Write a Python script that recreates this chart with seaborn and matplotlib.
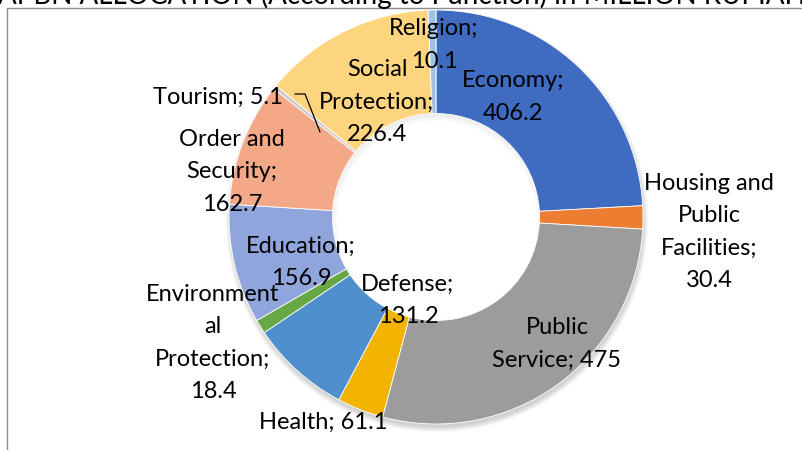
import matplotlib.pyplot as plt
import seaborn as sns
from matplotlib.patches import Rectangle

# Datos (millones de rupias)
categorias = ["Economy", "Housing and Public Facilities", "Public Service", "Health",
              "Defense", "Environmental Protection", "Education", "Order and Security",
              "Tourism", "Social Protection", "Religion"]
valores = [406.2, 30.4, 475, 61.1, 131.2, 18.4, 156.9, 162.7, 5.1, 226.4, 10.1]
etiquetas = ["Economy;\n406.2", "Housing and\nPublic\nFacilities;\n30.4", "Public\nService; 475",
             "Health; 61.1", "Defense;\n131.2", "Environment\nal\nProtection;\n18.4",
             "Education;\n156.9", "Order and\nSecurity;\n162.7", "Tourism; 5.1",
             "Social\nProtection;\n226.4", "Religion;\n10.1"]
titulo = "APBN ALLOCATION (According to Function) in MILLION RUPIAH"

colores = ["#3F6CC0", "#ED7D31", "#9C9C9C", "#F2B400", "#4F8FCD", "#68A844",
           "#8FA5DB", "#F3A988", "#C9C9C9", "#FED57F", "#9DC3E6"]

sns.set_theme(style="white")
plt.rcParams['font.family'] = ['Lato', 'DejaVu Sans']

W, H = 803, 450
fig = plt.figure(figsize=(W / 100, H / 100), dpi=100)
ax = fig.add_axes([0, 0, 1, 1])

cx, cy, R = 436, H - 217, 207

# sombra suave bajo el anillo
for k in range(6):
    ax.pie([1], colors=["#000000"], center=(cx + 1, cy - 4), radius=R + 4 - k,
           wedgeprops=dict(width=R * 0.5 - 2 * (4 - k), alpha=0.03, linewidth=0))

ax.pie(valores, colors=sns.color_palette(colores), startangle=90, counterclock=False,
       center=(cx, cy), radius=R,
       wedgeprops=dict(width=R * 0.5, edgecolor="white", linewidth=0.6))
ax.set_xlim(0, W)
ax.set_ylim(0, H)
ax.set_aspect("equal")
ax.axis("off")

# posiciones de las etiquetas en píxeles (como Excel las dejó)
pos_etiquetas = [(513, 97), (709, 232), (557, 344), (323, 422), (408, 300), (213, 343),
                 (301, 262), (232, 172), (218, 97), (377, 102), (434, 45)]
for txt, (px, py) in zip(etiquetas, pos_etiquetas):
    ax.text(px, H - py, txt, ha="center", va="center", fontsize=17,
            linespacing=1.65, color="black")

# línea guía de Tourism
ax.plot([295, 305, 320], [H - 94, H - 94, H - 132], color="black", lw=0.9)

# borde del área del gráfico y título cortado
ax.add_patch(Rectangle((7, -20), W, H - 8 + 20, fill=False, edgecolor="#8C8C8C",
                       lw=1.0, clip_on=False))
fig.text(-0.002, 1.011, titulo, ha="left", va="center", fontsize=20, color="black",
         family=["Lato", "DejaVu Sans"])

fig.savefig("out.png", dpi=100)
